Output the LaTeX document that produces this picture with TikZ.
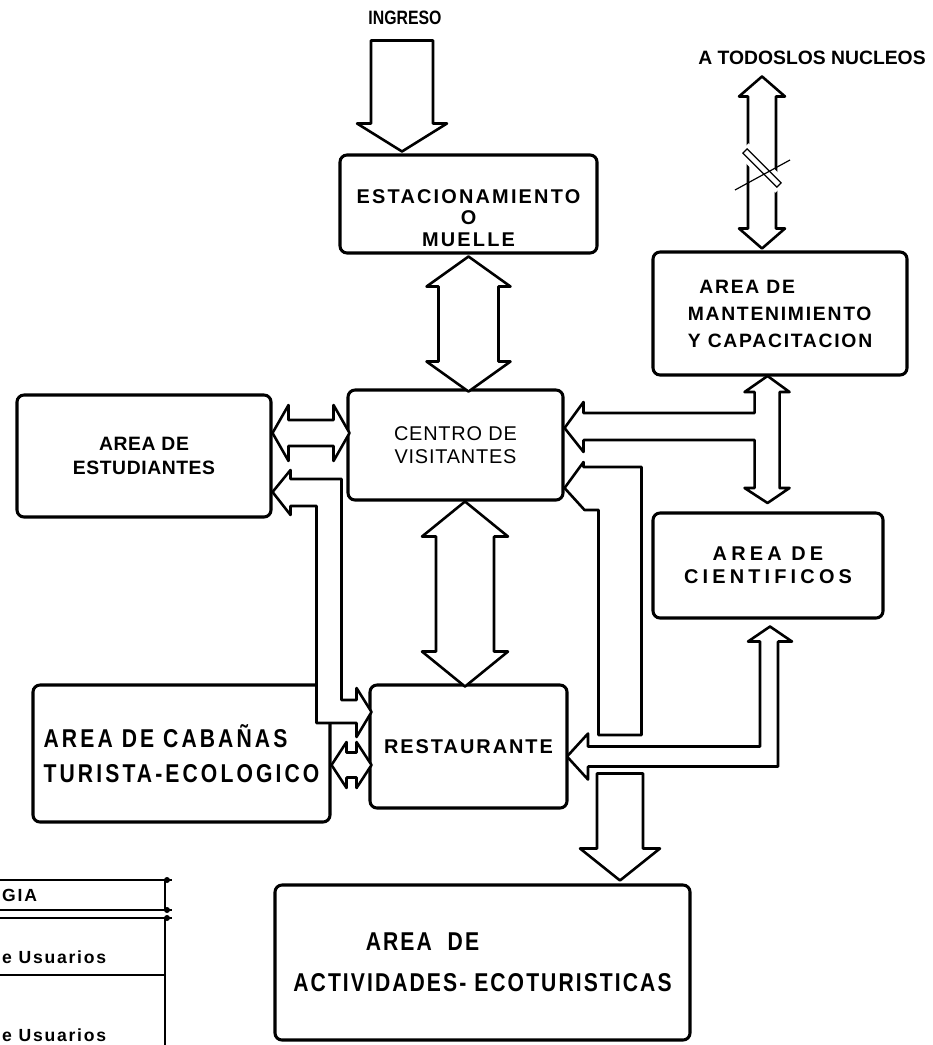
\documentclass[tikz,border=0pt]{standalone}
\usepackage{fontspec}
\setmainfont{Liberation Sans}
\newfontfamily\narrowfont[FakeStretch=0.82]{Liberation Sans}
\usetikzlibrary{calc}
\newcommand{\lsp}[1]{\addfontfeatures{LetterSpace=#1}}

\begin{document}
\begin{tikzpicture}[
    x=0.03cm, y=-0.03cm,
    box/.style={rectangle, rounded corners=6pt, draw=black, line width=2.6pt,
                inner sep=2pt, align=center},
    tube/.style={draw=black, line width=2.2pt, line join=round, fill=white},
    legend/.style={line width=1.6pt},
    txt/.style={inner sep=0pt, font=\fontsize{#1}{#1}\selectfont\bfseries}
]
    \useasboundingbox (0,0) rectangle (932,1045);
    \clip (0,0) rectangle (932,1045);

    % Boxes
    \node[box, minimum width=7.71cm, minimum height=2.94cm,
          font=\fontsize{17}{18}\selectfont\bfseries\lsp{11}] (estac) at (468.5,204) {\rule{0pt}{36pt}ESTACIONAMIENTO\\O\\MUELLE};
    \node[box, minimum width=6.45cm, minimum height=3.3cm,
          font=\fontsize{17}{20}\selectfont\lsp{4}] (centro) at (455.5,445) {CENTRO DE\\VISITANTES};
    \node[box, minimum width=7.62cm, minimum height=3.66cm,
          font=\fontsize{16.5}{21}\selectfont\bfseries\lsp{3}] (estud) at (144,456) {AREA DE\\ESTUDIANTES};
    \node[box, minimum width=7.62cm, minimum height=3.69cm, align=left,
          font=\fontsize{16.5}{23}\selectfont\bfseries\lsp{9}] (mant) at (780,313.5) {\hspace*{0.6em}AREA DE\\MANTENIMIENTO\\Y CAPACITACION};
    \node[box, minimum width=6.9cm, minimum height=3.15cm,
          font=\fontsize{17}{20}\selectfont\bfseries\lsp{21}] (cient) at (768,565.5) {AREA DE\\CIENTIFICOS};
    \node[box, minimum width=5.91cm, minimum height=3.69cm,
          font=\fontsize{17}{18}\selectfont\bfseries\lsp{10}] (rest) at (468.5,746.5) {RESTAURANTE};
    \node[box, minimum width=8.91cm, minimum height=4.11cm, align=left,
          font=\narrowfont\fontsize{22}{30}\selectfont\bfseries\lsp{12}] (caban) at (181.5,753.5) {AREA DE CABAÑAS\\TURISTA-ECOLOGICO};
    \node[box, minimum width=12.45cm, minimum height=4.65cm,
          font=\narrowfont\fontsize{22}{35}\selectfont\bfseries\lsp{8}] (activ) at (482.5,962.5) {AREA~~DE\hspace*{3.6cm}\\ACTIVIDADES- ECOTURISTICAS};

    % Top labels
    \node[inner sep=0pt, font=\narrowfont\fontsize{16.5}{17}\selectfont\bfseries] (ingreso) at (405,18) {INGRESO};
    \node[txt=16.5] (todos) at (812,58) {A TODOSLOS NUCLEOS};

    % Ingreso arrow
    \draw[tube] ($(estac.north)+(-66.5,-2)$) -- ++(-45,-28) -- ++(14,0) -- ++(0,-83)
        -- ++(62,0) -- ++(0,83) -- ++(14,0) -- cycle;

    % Estacionamiento <-> Centro
    \draw[tube] ($(estac.south)+(0,2)$) -- ++(42,30) -- ++(-12,0) -- ++(0,75) -- ++(12,0)
        -- ++(-42,30) -- ++(-42,-30) -- ++(12,0) -- ++(0,-75) -- ++(-12,0) -- cycle;

    % Centro <-> Restaurante
    \draw[tube] ($(centro.south)+(9.5,0)$) -- ++(43,35) -- ++(-14,0) -- ++(0,115) -- ++(14,0)
        -- ++(-43,35) -- ++(-43,-35) -- ++(14,0) -- ++(0,-115) -- ++(-14,0) -- cycle;

    % Estudiantes <-> Centro
    \draw[tube] ($(estud.east)+(0,-23)$) -- ++(16,-28) -- ++(0,15) -- ++(45,0) -- ++(0,-15)
        -- ++(16,28) -- ++(-16,28) -- ++(0,-15) -- ++(-45,0) -- ++(0,15) -- cycle;

    % Estudiantes <-> Restaurante
    \draw[tube] ($(estud.east)+(0,36)$) -- ++(18,-22) -- ++(0,9) -- ++(51,0) -- ++(0,221)
        -- ++(15,0) -- ++(0,-12) -- ++(15,24) -- ++(-15,25) -- ++(0,-14) -- ++(-40,0)
        -- ++(0,-217) -- ++(-26,0) -- ++(0,9) -- cycle;

    % Cabanas <-> Restaurante
    \draw[tube] ($(caban.east)+(0,11.5)$) -- ++(15,-23) -- ++(0,10.5) -- ++(10,0) -- ++(0,-10.5)
        -- ++(15,23) -- ++(-15,23) -- ++(0,-10.5) -- ++(-10,0) -- ++(0,10.5) -- cycle;

    % A todos los nucleos <-> Mantenimiento
    \draw[tube] ($(mant.north)+(-18,-2)$) -- ++(-23,-20) -- ++(9,0) -- ++(0,-132) -- ++(-9,0)
        -- ++(23,-20) -- ++(23,20) -- ++(-9,0) -- ++(0,132) -- ++(9,0) -- cycle;
    \fill[white, rotate around={-45:(762,168)}] (735,160) rectangle (789,176);
    \draw[line width=1pt, rotate around={-45:(762,168)}] (738,165) rectangle (786,171);
    \draw[line width=1pt] (735,190) -- (790,160);

    % Centro <-> Mantenimiento / Cientificos
    \draw[tube] ($(centro.east)+(0,-17)$) -- ++(19,-26) -- ++(0,11) -- ++(171,0) -- ++(0,-21)
        -- ++(-10,0) -- ++(23,-16) -- ++(22,16) -- ++(-10,0) -- ++(0,96) -- ++(10,0)
        -- ++(-22,15) -- ++(-23,-15) -- ++(10,0) -- ++(0,-48) -- ++(-171,0) -- ++(0,12) -- cycle;

    % Centro branch going down
    \draw[tube] ($(centro.east)+(0,43)$) -- ++(19,-26) -- ++(0,5) -- ++(58,0) -- ++(0,268)
        -- ++(-43,0) -- ++(0,-225) -- ++(-14,0) -- cycle;

    % Cientificos <-> Restaurante
    \draw[tube] ($(cient.south)+(2,7)$) -- ++(22,15) -- ++(-14,0) -- ++(0,125) -- ++(-190,0)
        -- ++(0,13) -- ++(-21,-23) -- ++(21,-23) -- ++(0,13) -- ++(172,0) -- ++(0,-105)
        -- ++(-12,0) -- cycle;

    % Restaurante -> Actividades
    \draw[tube] ($(activ.north)+(137.5,-3)$) -- ++(-40,-32) -- ++(17,0) -- ++(0,-75)
        -- ++(46,0) -- ++(0,75) -- ++(17,0) -- cycle;

    % Legend (cut at the left edge)
    \draw[legend] (0,880) -- (172,880);
    \draw[legend] (0,910) -- (172,910);
    \draw[legend] (165,880) -- (165,910);
    \draw[legend] (0,918) -- (172,918);
    \draw[legend] (165,918) -- (165,1045);
    \draw[legend] (0,975) -- (165,975);
    \foreach \y in {880,910,918} {
        \fill (167,\y) circle (3);
    }
    \node[txt=15, anchor=west] (leg1) at (2,895) {\lsp{10}GIA};
    \node[txt=15, anchor=west] (leg2) at (2,957) {\lsp{10}e Usuarios};
    \node[txt=15, anchor=west] (leg3) at (2,1035) {\lsp{10}e Usuarios};
\end{tikzpicture}
\end{document}
